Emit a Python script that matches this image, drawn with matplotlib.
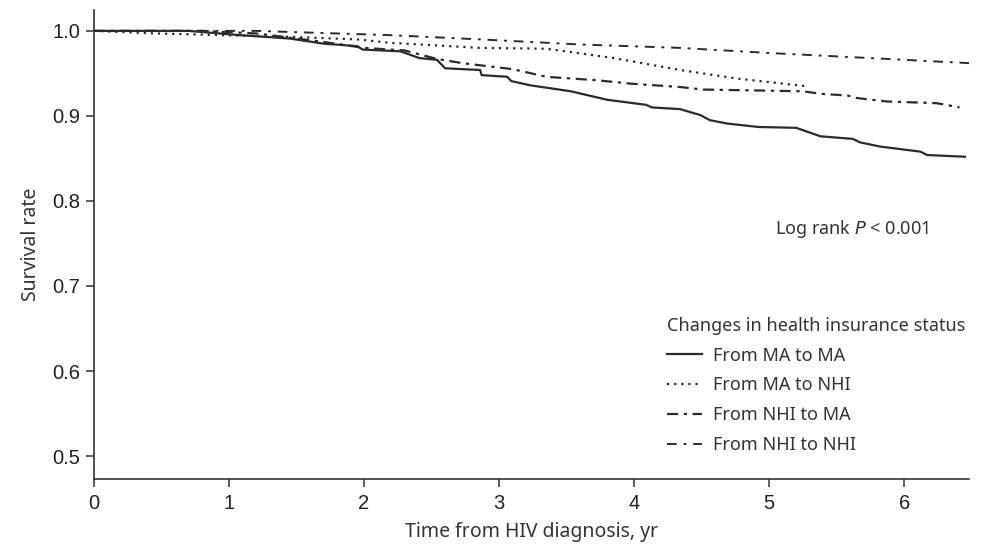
import numpy as np
import matplotlib.pyplot as plt

# survival curves (time in years, survival rate)
t_ma_ma = [0, 0.7, 1.08, 1.45, 1.7, 1.95, 1.99, 2.27, 2.41, 2.54, 2.6, 2.86, 2.87, 3.06, 3.09,
           3.23, 3.53, 3.80, 4.09, 4.13, 4.34, 4.49, 4.56, 4.69, 4.92, 5.20, 5.38, 5.62, 5.67,
           5.82, 6.12, 6.17, 6.45]
s_ma_ma = [1.0, 1.0, 0.995, 0.991, 0.985, 0.982, 0.978, 0.976, 0.968, 0.966, 0.956, 0.954, 0.948,
           0.946, 0.941, 0.936, 0.929, 0.919, 0.913, 0.910, 0.908, 0.901, 0.895, 0.891, 0.887,
           0.886, 0.876, 0.873, 0.869, 0.864, 0.858, 0.854, 0.852]

t_ma_nhi = [0, 0.46, 1.45, 1.95, 2.19, 2.86, 3.35, 3.85, 4.34, 4.76, 5.27]
s_ma_nhi = [1.0, 0.997, 0.993, 0.990, 0.986, 0.980, 0.979, 0.968, 0.954, 0.944, 0.935]

t_nhi_ma = [0, 0.8, 1.2, 1.7, 2.0, 2.3, 2.54, 2.73, 3.1, 3.35, 3.72, 3.97, 4.34, 4.51, 5.25,
            5.38, 5.58, 5.65, 5.87, 6.24, 6.41]
s_nhi_ma = [1.0, 1.0, 0.997, 0.987, 0.980, 0.977, 0.967, 0.962, 0.955, 0.946, 0.942, 0.938,
            0.934, 0.931, 0.929, 0.926, 0.924, 0.921, 0.917, 0.915, 0.910]

t_nhi_nhi = [0, 1.2, 2.19, 2.86, 3.6, 4.34, 5.0, 5.75, 6.49]
s_nhi_nhi = [1.0, 1.0, 0.995, 0.990, 0.984, 0.980, 0.974, 0.968, 0.962]

labels = ['From MA to MA', 'From MA to NHI', 'From NHI to MA', 'From NHI to NHI']

col = '#2b2b2b'
lab_font = 'Noto Sans'
tick_font = 'Liberation Sans'

fig = plt.figure(figsize=(9.81, 5.49), dpi=100)
ax = fig.add_axes([0.0958, 0.1275, 0.892, 0.8545])

ax.plot(t_ma_ma, s_ma_ma, color=col, lw=1.6, ls='-', label=labels[0])
ax.plot(t_ma_nhi, s_ma_nhi, color=col, lw=1.6, ls=(0, (1, 2.2)), label=labels[1])
ax.plot(t_nhi_ma, s_nhi_ma, color=col, lw=1.6, ls=(0, (5, 2.5, 1.5, 2.5)), label=labels[2])
ax.plot(t_nhi_nhi, s_nhi_nhi, color=col, lw=1.4, ls=(0, (5, 3.5, 1.5, 3.5)), label=labels[3])

ax.set_xlim(0, 6.48)
ax.set_ylim(0.473, 1.0247)
ax.set_xticks(range(7))
ax.set_yticks([0.5, 0.6, 0.7, 0.8, 0.9, 1.0])
ax.set_yticklabels(['0.5', '0.6', '0.7', '0.8', '0.9', '1.0'])
for s in ['top', 'right']:
    ax.spines[s].set_visible(False)
for s in ['left', 'bottom']:
    ax.spines[s].set_color('#333333')
    ax.spines[s].set_linewidth(1.2)
ax.tick_params(direction='out', length=6, width=1.1, color='#333333', labelsize=14.5,
               labelcolor='#222222', pad=5)
ax.tick_params(axis='y', pad=4)
for lbl in ax.get_xticklabels() + ax.get_yticklabels():
    lbl.set_family(tick_font)

ax.set_xlabel('Time from HIV diagnosis, yr', family=lab_font, fontsize=14, color='#333333', labelpad=6)
ax.set_ylabel('Survival rate', family=lab_font, fontsize=14, color='#333333', labelpad=8)

ax.text(0.778, 0.533, 'Log rank $\\it{P}$ < 0.001', transform=ax.transAxes, family=lab_font,
        fontsize=13, color='#333333', va='center')

leg = ax.legend(loc='lower right', bbox_to_anchor=(1.004, 0.038), frameon=False,
                title='Changes in health insurance status', handlelength=1.95, handletextpad=0.6,
                labelspacing=0.65, borderaxespad=0.0,
                prop={'family': lab_font, 'size': 13})
leg.get_title().set_family(lab_font)
leg.get_title().set_fontsize(13)
leg.get_title().set_color('#333333')
leg._legend_box.align = 'left'
for txt in leg.get_texts():
    txt.set_color('#333333')

fig.savefig('out.png', dpi=100)
